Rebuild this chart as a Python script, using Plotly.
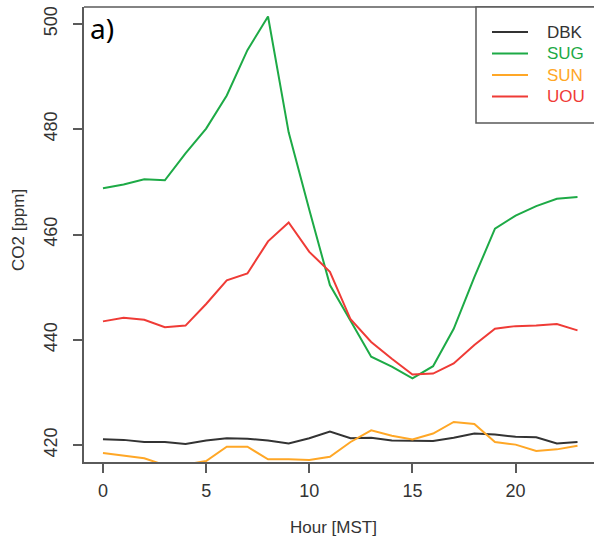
import plotly.graph_objects as go

hours = list(range(24))
DBK = [421.1, 421.0, 420.6, 420.6, 420.2, 420.9, 421.3, 421.2, 420.9, 420.3, 421.3, 422.6,
       421.3, 421.4, 420.9, 420.8, 420.8, 421.4, 422.2, 422.0, 421.6, 421.5, 420.3, 420.6]
SUG = [468.8, 469.5, 470.5, 470.3, 475.4, 480.1, 486.4, 495.0, 501.4, 479.4, 464.7, 450.4,
       443.6, 436.8, 434.9, 432.7, 435.0, 442.1, 451.9, 461.1, 463.6, 465.4, 466.8, 467.1]
SUN = [418.5, 418.0, 417.5, 416.2, 416.3, 417.0, 419.7, 419.7, 417.3, 417.3, 417.2, 417.8,
       420.6, 422.8, 421.8, 421.1, 422.2, 424.4, 424.0, 420.6, 420.1, 418.9, 419.2, 419.9]
UOU = [443.5, 444.2, 443.8, 442.4, 442.7, 446.8, 451.3, 452.6, 458.7, 462.3, 456.7, 452.9,
       443.9, 439.6, 436.4, 433.4, 433.6, 435.5, 439.0, 442.1, 442.6, 442.7, 443.0, 441.8]

names = ["DBK", "SUG", "SUN", "UOU"]
series = [DBK, SUG, SUN, UOU]
colors = ["#333333", "#1DAA46", "#FFA726", "#EF3B36"]
x_ticks = [0, 5, 10, 15, 20]
y_ticks = [420, 440, 460, 480, 500]

W, H = 594, 541
ml, mr, mt, mb = 84, 0, 7, 79

fig = go.Figure()
for n, s, c in zip(names, series, colors):
    fig.add_trace(go.Scatter(x=hours, y=s, mode="lines", name=n,
                             line=dict(color=c, width=2), showlegend=False))

font = "Liberation Sans, Arial, sans-serif"
axis_col = "#5a5a5a"
fig.update_layout(
    width=W, height=H, margin=dict(l=ml, r=mr, t=mt, b=mb),
    plot_bgcolor="white", paper_bgcolor="white",
    font=dict(family=font, color="#333333"),
    xaxis=dict(range=[-0.92, 23.80], tickvals=x_ticks, ticks="outside", ticklen=9,
               tickwidth=1.5, tickcolor=axis_col, showline=True, linecolor=axis_col,
               linewidth=1.5, showgrid=False, zeroline=False, ticklabelstandoff=3,
               tickfont=dict(size=18, color="#333333")),
    yaxis=dict(range=[416.8, 503.2], tickvals=y_ticks, ticks="outside", ticklen=9,
               tickwidth=1.5, tickcolor=axis_col, showline=True, linecolor=axis_col,
               linewidth=1.5, showgrid=False, zeroline=False, tickangle=-90,
               ticklabelstandoff=9,
               tickfont=dict(size=18, color="#333333")),
)

# top frame line
fig.add_shape(type="line", xref="paper", yref="paper", x0=0, x1=1, y0=1, y1=1,
              line=dict(color=axis_col, width=1.5))

pw = W - ml - mr
ph = H - mt - mb


def px_x(x):
    return (x - ml) / pw


def px_y(y):
    return 1 - (y - mt) / ph


# legend box
fig.add_shape(type="rect", xref="paper", yref="paper",
              x0=px_x(476), x1=px_x(600), y0=px_y(123), y1=px_y(7),
              line=dict(color=axis_col, width=1.5), fillcolor="white", layer="above")
leg_y = [32, 53.5, 75, 96.5]
for n, c, yy in zip(names, colors, leg_y):
    fig.add_shape(type="line", xref="paper", yref="paper",
                  x0=px_x(492), x1=px_x(528), y0=px_y(yy), y1=px_y(yy),
                  line=dict(color=c, width=2), layer="above")
    fig.add_annotation(xref="paper", yref="paper", x=px_x(545), y=px_y(yy),
                       text=n, showarrow=False, xanchor="left", yanchor="middle",
                       font=dict(size=17, color=c, family=font))

# panel label
fig.add_annotation(xref="paper", yref="paper", x=px_x(88), y=px_y(28), text="a)",
                   showarrow=False, xanchor="left", yanchor="middle",
                   font=dict(size=28, color="black", family="Noto Sans, Open Sans, sans-serif"))

# axis titles
fig.add_annotation(xref="paper", yref="paper", x=px_x(333), y=px_y(527), text="Hour [MST]",
                   showarrow=False, xanchor="center", yanchor="middle",
                   font=dict(size=17, color="#333333", family=font))
fig.add_annotation(xref="paper", yref="paper", x=px_x(18), y=px_y(230), text="CO2 [ppm]",
                   showarrow=False, xanchor="center", yanchor="middle", textangle=-90,
                   font=dict(size=17, color="#333333", family=font))

fig.write_html("out.html")
